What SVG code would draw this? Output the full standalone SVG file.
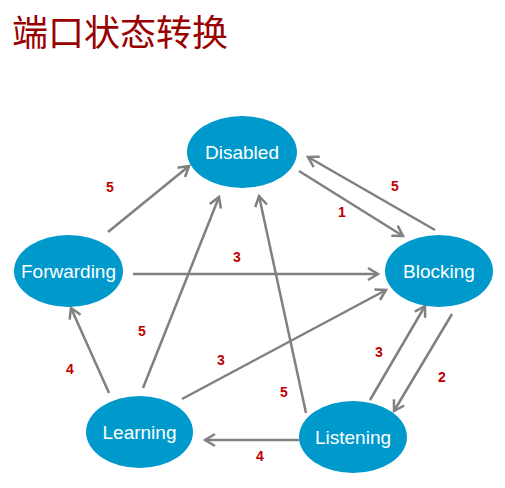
<svg xmlns="http://www.w3.org/2000/svg" width="505" height="488" viewBox="0 0 505 488">
<style>
.node ellipse{fill:#0099cc}
.node text{fill:#fff;font-family:"Liberation Sans",Arial,sans-serif;font-size:19px;text-anchor:middle}
.edge{stroke:#808080;stroke-width:2.5;fill:none;marker-end:url(#arr)}
.lbl{fill:#c00000;font-family:"Liberation Sans",Arial,sans-serif;font-size:14px;font-weight:bold;text-anchor:middle}
</style>
<defs>
<marker id="arr" markerUnits="userSpaceOnUse" markerWidth="16" markerHeight="16" refX="11" refY="7" orient="auto" viewBox="0 0 16 14">
<path d="M1,1 L11,7 L1,13" fill="none" stroke="#808080" stroke-width="2.5"/>
</marker>
</defs>
<rect width="505" height="488" fill="#fff"/>
<text x="12" y="46" font-family="'Noto Sans CJK SC',sans-serif" font-size="36" fill="#990000">端口状态转换</text>
<g id="connectors">
<line class="edge" x1="108" y1="232" x2="189" y2="166"/>
<line class="edge" x1="299" y1="171" x2="403" y2="236"/>
<line class="edge" x1="435" y1="230" x2="308" y2="157"/>
<line class="edge" x1="133" y1="274" x2="378" y2="274"/>
<line class="edge" x1="143" y1="388" x2="219" y2="197"/>
<line class="edge" x1="306" y1="413" x2="259" y2="196"/>
<line class="edge" x1="109" y1="393" x2="71" y2="308"/>
<line class="edge" x1="182" y1="399" x2="386" y2="290"/>
<line class="edge" x1="370" y1="400" x2="425" y2="306"/>
<line class="edge" x1="452" y1="314" x2="394" y2="411"/>
<line class="edge" x1="299" y1="440" x2="205" y2="440"/>
<text class="lbl" x="110" y="192">5</text>
<text class="lbl" x="342" y="217">1</text>
<text class="lbl" x="395" y="191">5</text>
<text class="lbl" x="237" y="262">3</text>
<text class="lbl" x="142" y="336">5</text>
<text class="lbl" x="70" y="374">4</text>
<text class="lbl" x="221" y="365">3</text>
<text class="lbl" x="284" y="397">5</text>
<text class="lbl" x="379" y="357">3</text>
<text class="lbl" x="442" y="382">2</text>
<text class="lbl" x="260" y="461">4</text>
</g>
<g id="disabled" class="node"><ellipse cx="242" cy="152" rx="55" ry="36"/><text x="242" y="159">Disabled</text></g>
<g id="forwarding" class="node"><ellipse cx="68.5" cy="271" rx="54.5" ry="36"/><text x="68.5" y="278">Forwarding</text></g>
<g id="blocking" class="node"><ellipse cx="439" cy="271" rx="54" ry="36"/><text x="439" y="278">Blocking</text></g>
<g id="learning" class="node"><ellipse cx="139.5" cy="432" rx="53.5" ry="36"/><text x="139.5" y="439">Learning</text></g>
<g id="listening" class="node"><ellipse cx="353" cy="437" rx="54" ry="36"/><text x="353" y="444">Listening</text></g>
</svg>
